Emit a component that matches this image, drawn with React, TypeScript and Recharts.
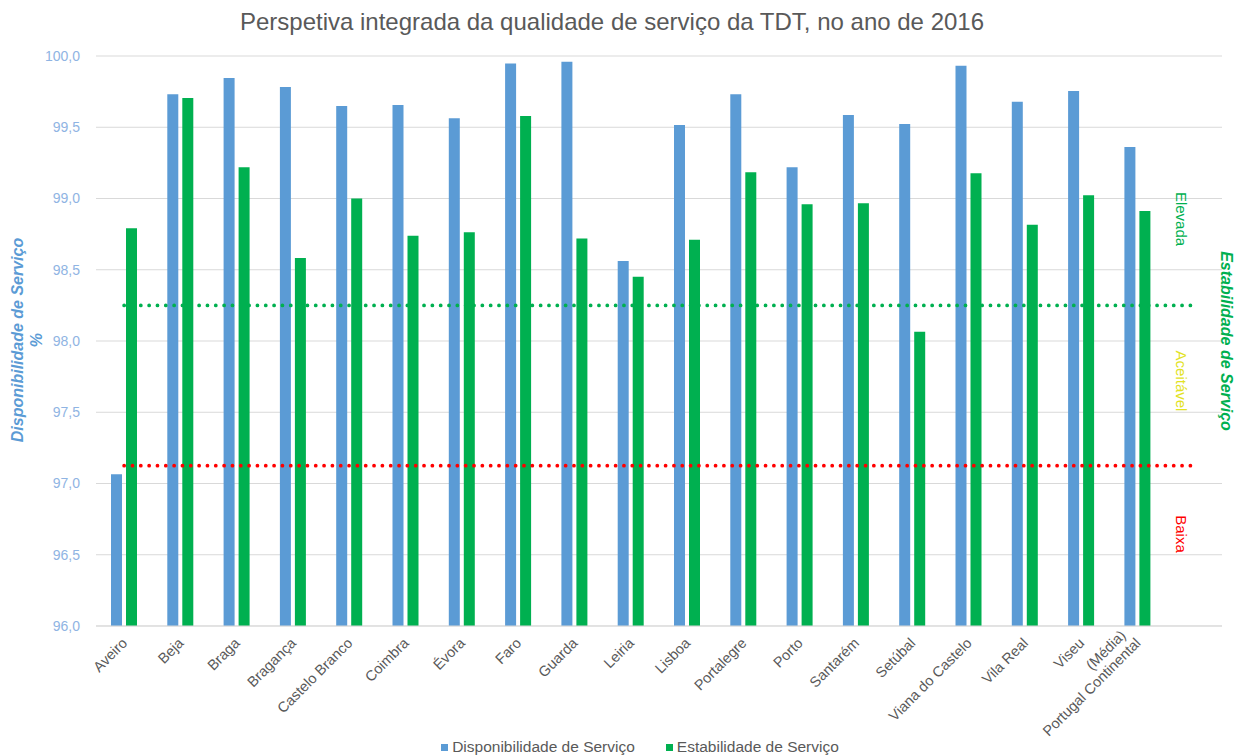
import React from "react";
import { ComposedChart, Bar, Line, XAxis, YAxis, CartesianGrid } from "recharts";

/* ─── dados ─── */
const categorias = [
  "Aveiro", "Beja", "Braga", "Bragança", "Castelo Branco", "Coimbra", "Évora", "Faro",
  "Guarda", "Leiria", "Lisboa", "Portalegre", "Porto", "Santarém", "Setúbal",
  "Viana do Castelo", "Vila Real", "Viseu", "Portugal Continental (Média)",
];
const disponibilidade = [
  97.065, 99.731, 99.846, 99.782, 99.649, 99.656, 99.563, 99.948, 99.96, 98.561,
  99.516, 99.731, 99.219, 99.586, 99.523, 99.932, 99.679, 99.754, 99.361,
];
const estabilidade = [
  98.791, 99.705, 99.219, 98.582, 99.0, 98.739, 98.763, 99.579, 98.72, 98.451,
  98.711, 99.184, 98.959, 98.966, 98.065, 99.177, 98.816, 99.022, 98.912,
];
const LIMITE_ELEVADA = 98.25;
const LIMITE_BAIXA = 97.125;
const yTicks = [96, 96.5, 97, 97.5, 98, 98.5, 99, 99.5, 100];

const AZUL = "#5B9BD5";
const VERDE = "#00B050";
const CINZA = "#595959";
const FONT = '"Liberation Sans", Arial, sans-serif';

// última categoria vazia deixa espaço para os rótulos Elevada / Aceitável / Baixa
const data = [...categorias, ""].map((name, i) => ({
  name,
  disp: i < categorias.length ? disponibilidade[i] : null,
  estab: i < categorias.length ? estabilidade[i] : null,
  elevada: LIMITE_ELEVADA,
  baixa: LIMITE_BAIXA,
}));

const fmt = (v: number) => v.toFixed(1).replace(".", ",");

function CatTick({ x, y, payload }: any) {
  const label: string = payload.value;
  if (!label) return null;
  const idx = label.indexOf(" (");
  const lines = idx > 0 ? [label.slice(idx + 1), label.slice(0, idx)] : [label];
  return (
    <g transform={`translate(${x + 4},${y + 10}) rotate(-45)`}>
      {lines.map((l, i) => (
        <text
          key={i}
          x={i === 0 && lines.length > 1 ? -5 : 0}
          y={(i - (lines.length - 1)) * 16}
          textAnchor="end"
          fontSize={14.5}
          fill={CINZA}
          fontFamily={FONT}
        >
          {l}
        </text>
      ))}
    </g>
  );
}

const rot = (deg: number): React.CSSProperties => ({
  position: "absolute",
  transform: `translate(-50%, -50%) rotate(${deg}deg)`,
  whiteSpace: "nowrap",
  fontFamily: FONT,
});

export default function App() {
  return (
    <div style={{ position: "relative", width: 1236, height: 756, background: "#fff", fontFamily: FONT }}>
      <style>{`body{margin:0}`}</style>
      <div
        style={{
          position: "absolute", top: 8, left: -6, width: 1236, textAlign: "center",
          fontSize: 24, color: CINZA,
        }}
      >
        Perspetiva integrada da qualidade de serviço da TDT, no ano de 2016
      </div>

      <ComposedChart
        width={1236}
        height={756}
        data={data}
        margin={{ top: 56, right: 14, bottom: 10, left: 0 }}
        barSize={11}
        barGap={4}
      >
        <CartesianGrid vertical={false} stroke="#d9d9d9" />
        <XAxis
          dataKey="name"
          height={120}
          interval={0}
          tickLine={false}
          axisLine={{ stroke: "#d9d9d9" }}
          tick={<CatTick />}
        />
        <YAxis
          width={96}
          domain={[96, 100]}
          ticks={yTicks}
          tickFormatter={fmt}
          axisLine={false}
          tickLine={false}
          tick={{ fontSize: 14, fill: "#8FB4E3", fontFamily: FONT }}
          tickMargin={10}
        />
        <Bar dataKey="disp" fill={AZUL} isAnimationActive={false} />
        <Bar dataKey="estab" fill={VERDE} isAnimationActive={false} />
        <Line
          dataKey="elevada"
          stroke={VERDE}
          strokeWidth={3.8}
          strokeDasharray="0 8.33"
          strokeLinecap="round"
          dot={false}
          activeDot={false}
          isAnimationActive={false}
        />
        <Line
          dataKey="baixa"
          stroke="#FF0000"
          strokeWidth={3.8}
          strokeDasharray="0 8.33"
          strokeLinecap="round"
          dot={false}
          activeDot={false}
          isAnimationActive={false}
        />
      </ComposedChart>

      {/* título eixo esquerdo */}
      <div
        style={{
          ...rot(-90), left: 27, top: 340, textAlign: "center", fontSize: 16,
          fontWeight: "bold", fontStyle: "italic", color: AZUL, lineHeight: "19px",
        }}
      >
        Disponibilidade de Serviço
        <br />%
      </div>

      {/* título eixo direito */}
      <div
        style={{
          ...rot(90), left: 1226, top: 341, fontSize: 16,
          fontWeight: "bold", fontStyle: "italic", color: VERDE,
        }}
      >
        Estabilidade de Serviço
      </div>

      {/* zonas */}
      <div style={{ ...rot(90), left: 1181, top: 219, fontSize: 15, color: VERDE }}>Elevada</div>
      <div style={{ ...rot(90), left: 1181, top: 381, fontSize: 15, color: "#E2E222" }}>Aceitável</div>
      <div style={{ ...rot(90), left: 1181, top: 534, fontSize: 15, color: "#FF0000" }}>Baixa</div>

      {/* legenda */}
      <div
        style={{
          position: "absolute", top: 738, left: 22, width: 1236, display: "flex",
          justifyContent: "center", gap: 31, fontSize: 15.5, color: CINZA,
        }}
      >
        {[["Disponibilidade de Serviço", AZUL], ["Estabilidade de Serviço", VERDE]].map(([t, c]) => (
          <span key={t} style={{ display: "flex", alignItems: "center" }}>
            <span style={{ width: 7, height: 7, background: c, marginRight: 4, display: "inline-block" }} />
            {t}
          </span>
        ))}
      </div>
    </div>
  );
}
